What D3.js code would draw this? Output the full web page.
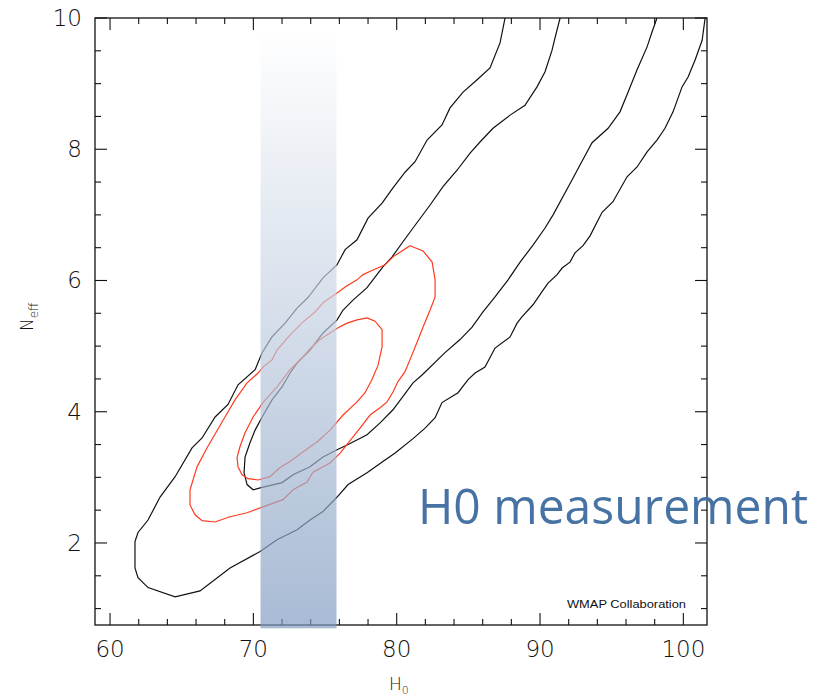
<!DOCTYPE html>
<html>
<head>
<meta charset="utf-8">
<script src="https://cdn.jsdelivr.net/npm/d3@7"></script>
<style>
  body { margin: 0; background: #fff; }
  svg { display: block; }
  .tick-label { font-family: "DejaVu Sans", sans-serif; font-weight: 200; font-size: 23px; fill: #111; }
</style>
</head>
<body>
<svg id="chart" width="829" height="698"></svg>
<script>
// axis ranges and ticks
var xDomain = [58.95, 101.65];
var yDomain = [0.75, 10];
var xMajor = [60, 70, 80, 90, 100];
var yMajor = [2, 4, 6, 8, 10];

// H0 prior band (km/s/Mpc)
var band = [70.5, 75.8];
var bandN = [9.82, 0.7];

// WMAP-only contours: [H0, Neff]
var blackOuter = [
  [87.56,10],[87.21,9.62],[86.51,9.24],[85.61,9.06],[84.63,8.87],[83.72,8.63],[83.16,8.37],[82.12,8.14],
  [81.28,7.81],[80.58,7.65],[79.74,7.41],[78.98,7.18],[78.00,6.95],[77.23,6.62],[76.40,6.47],[75.84,6.24],
  [74.86,6.04],[73.81,5.74],[73.05,5.58],[72.21,5.35],[71.30,5.14],[70.61,4.90],[70.12,4.64],[68.93,4.41],
  [68.23,4.11],[67.33,3.92],[66.42,3.60],[65.72,3.45],[64.54,3.01],[63.49,2.70],[62.65,2.35],[61.95,2.16],
  [61.74,2.02],[61.74,1.62],[61.95,1.47],[62.65,1.32],[64.54,1.18],[66.28,1.27],[68.37,1.62],[70.47,1.87],
  [71.65,2.05],[73.05,2.20],[73.95,2.35],[74.86,2.48],[75.84,2.70],[76.61,2.89],[77.93,3.07],[78.84,3.21],
  [79.89,3.37],[81.14,3.59],[81.98,3.75],[82.68,3.91],[83.16,4.14],[84.28,4.29],[84.98,4.49],[85.47,4.59],
  [86.16,4.68],[86.86,4.97],[87.91,5.14],[88.40,5.35],[88.75,5.45],[89.51,5.63],[90.14,5.83],[90.56,5.96],
  [91.19,6.09],[91.54,6.19],[92.09,6.28],[92.44,6.42],[93.00,6.53],[93.49,6.68],[94.33,7.04],[95.09,7.20],
  [96.07,7.58],[96.77,7.73],[97.47,7.96],[98.16,8.14],[98.72,8.32],[99.28,8.57],[99.91,8.95],[100.33,9.10],
  [100.82,9.36],[101.31,9.66],[101.52,10]
];
var blackInner = [
  [91.40,10],[91.05,9.70],[90.84,9.51],[90.35,9.18],[89.79,8.95],[88.95,8.67],[87.91,8.52],[86.72,8.32],
  [85.81,8.11],[85.12,7.94],[84.21,7.68],[83.23,7.43],[82.33,7.15],[81.14,6.80],[80.44,6.59],[79.68,6.36],
  [79.05,6.21],[77.93,5.89],[76.95,5.70],[76.26,5.55],[75.84,5.40],[74.86,5.20],[73.95,4.94],[73.05,4.74],
  [72.56,4.59],[72.00,4.38],[71.30,4.18],[70.61,3.92],[70.12,3.72],[69.77,3.53],[69.42,3.31],[69.35,3.07],
  [69.56,2.89],[69.98,2.81],[70.47,2.84],[72.00,2.92],[72.77,3.04],[73.95,3.16],[74.86,3.31],[75.84,3.42],
  [76.61,3.50],[77.93,3.65],[78.84,3.83],[79.74,4.03],[81.14,4.44],[81.77,4.56],[83.37,4.90],[84.42,5.10],
  [85.26,5.29],[86.02,5.52],[86.86,5.75],[87.77,6.01],[88.61,6.28],[89.51,6.54],[90.35,6.80],[90.91,7.00],
  [92.23,7.53],[92.79,7.76],[93.63,8.10],[94.75,8.32],[95.58,8.57],[96.14,8.87],[96.77,9.21],[97.47,9.56],
  [97.82,9.79],[98.16,10]
];
// WMAP + BAO + H0 contours (closed)
var redOuter = [
  [80.93,6.53],[81.84,6.45],[82.47,6.28],[82.68,6.01],[82.68,5.75],[82.33,5.55],[81.84,5.29],[81.42,5.06],
  [81.07,4.87],[80.58,4.61],[80.09,4.46],[79.74,4.30],[79.33,4.15],[78.84,4.06],[78.14,3.95],[77.44,3.75],
  [76.05,3.37],[75.35,3.22],[74.16,3.08],[73.74,2.93],[72.77,2.81],[72.07,2.66],[70.67,2.55],[69.56,2.46],
  [68.37,2.40],[67.33,2.32],[66.42,2.34],[65.93,2.43],[65.58,2.58],[65.58,2.81],[66.07,3.16],[66.77,3.45],
  [67.33,3.66],[68.02,3.92],[68.72,4.18],[69.56,4.44],[70.33,4.59],[70.67,4.68],[71.30,4.79],[71.65,4.94],
  [72.56,5.17],[73.47,5.37],[74.30,5.52],[74.86,5.66],[75.84,5.81],[76.40,5.90],[77.23,6.01],[77.65,6.09],
  [78.35,6.16],[79.19,6.24],[79.74,6.36]
];
var redInner = [
  [77.93,5.43],[78.49,5.38],[78.98,5.25],[78.98,4.99],[78.70,4.71],[78.28,4.49],[77.79,4.29],[77.23,4.15],
  [76.26,3.95],[75.35,3.72],[74.44,3.54],[73.47,3.39],[72.56,3.24],[71.86,3.15],[71.16,3.01],[70.33,2.96],
  [69.63,2.98],[69.21,3.04],[68.93,3.16],[68.86,3.30],[69.07,3.47],[69.42,3.68],[69.98,3.92],[70.67,4.14],
  [71.65,4.38],[72.56,4.64],[73.47,4.84],[73.95,4.96],[74.65,5.10],[75.35,5.20],[75.91,5.28],[76.54,5.35],
  [77.23,5.40]
];

var svg = d3.select('#chart');
var x = d3.scaleLinear().domain(xDomain).range([95, 707]);
var y = d3.scaleLinear().domain(yDomain).range([625, 18]);

var defs = svg.append('defs');
defs.append('clipPath').attr('id', 'plot')
  .append('rect').attr('x', 95).attr('y', 18).attr('width', 612).attr('height', 607);

var grad = defs.append('linearGradient')
  .attr('id', 'bandGrad').attr('x1', 0).attr('y1', 0).attr('x2', 0).attr('y2', 1);
grad.append('stop').attr('offset', '0%').attr('stop-color', '#ffffff');
grad.append('stop').attr('offset', '100%').attr('stop-color', '#7f9ac0');

var openLine = d3.line().x(function(d) { return x(d[0]); }).y(function(d) { return y(d[1]); });
var loopLine = d3.line().curve(d3.curveLinearClosed)
  .x(function(d) { return x(d[0]); }).y(function(d) { return y(d[1]); });

// contours
var g = svg.append('g').attr('clip-path', 'url(#plot)');
[blackOuter, blackInner].forEach(function(c) {
  g.append('path').attr('d', openLine(c)).attr('fill', 'none').attr('stroke', '#111').attr('stroke-width', 1.2);
});
[redOuter, redInner].forEach(function(c) {
  g.append('path').attr('d', loopLine(c)).attr('fill', 'none').attr('stroke', '#ff3b1f').attr('stroke-width', 1.2);
});

// frame + ticks
var frame = svg.append('g');
frame.append('rect').attr('x', 95).attr('y', 18).attr('width', 612).attr('height', 607)
  .attr('fill', 'none').attr('stroke', '#111').attr('stroke-width', 1.3);

var xMinor = d3.range(60, 102, 2);
var yMinor = d3.range(1, 10.01, 0.5);
xMinor.forEach(function(v) {
  var len = xMajor.indexOf(v) >= 0 ? 12 : 6;
  frame.append('line').attr('x1', x(v)).attr('x2', x(v)).attr('y1', 625).attr('y2', 625 - len)
    .attr('stroke', '#111').attr('stroke-width', 1.1);
  frame.append('line').attr('x1', x(v)).attr('x2', x(v)).attr('y1', 18).attr('y2', 18 + len)
    .attr('stroke', '#111').attr('stroke-width', 1.1);
});
yMinor.forEach(function(v) {
  var len = yMajor.indexOf(v) >= 0 ? 12 : 6;
  frame.append('line').attr('y1', y(v)).attr('y2', y(v)).attr('x1', 95).attr('x2', 95 + len)
    .attr('stroke', '#111').attr('stroke-width', 1.1);
  frame.append('line').attr('y1', y(v)).attr('y2', y(v)).attr('x1', 707).attr('x2', 707 - len)
    .attr('stroke', '#111').attr('stroke-width', 1.1);
});

svg.selectAll('.xl').data(xMajor).enter().append('text')
  .attr('class', 'tick-label').attr('x', function(d) { return x(d); }).attr('y', 657)
  .attr('text-anchor', 'middle').text(function(d) { return d; });
svg.selectAll('.yl').data(yMajor).enter().append('text')
  .attr('class', 'tick-label').attr('x', 82).attr('y', function(d) { return y(d) + 8; })
  .attr('text-anchor', 'end').text(function(d) { return d; });

// axis titles
var xt = svg.append('text').attr('x', 389).attr('y', 690)
  .style('font-family', 'DejaVu Sans, sans-serif').style('font-weight', 200).style('font-size', '17px').attr('fill', '#111');
xt.append('tspan').text('H');
xt.append('tspan').attr('dy', 4).style('font-size', '11px').text('0');

var yt = svg.append('text').attr('transform', 'translate(33,331) rotate(-90)')
  .style('font-family', 'DejaVu Sans, sans-serif').style('font-weight', 200).style('font-size', '17px').attr('fill', '#111');
yt.append('tspan').text('N');
yt.append('tspan').attr('dy', 5).style('font-size', '12px').text('eff');

// prior band drawn over the contours
svg.append('rect')
  .attr('x', x(band[0])).attr('width', x(band[1]) - x(band[0]))
  .attr('y', y(bandN[0])).attr('height', y(bandN[1]) - y(bandN[0]))
  .attr('fill', 'url(#bandGrad)').attr('fill-opacity', 0.68);

svg.append('text').attr('x', 567).attr('y', 608)
  .style('font-family', 'Liberation Sans, Arial, sans-serif').style('font-size', '11px').attr('fill', '#111')
  .attr('textLength', 119).attr('lengthAdjust', 'spacingAndGlyphs')
  .text('WMAP Collaboration');

svg.append('text').attr('x', 418).attr('y', 524)
  .style('font-family', 'Open Sans, sans-serif').style('font-size', '50px').attr('fill', '#4673a3')
  .attr('textLength', 390).attr('lengthAdjust', 'spacingAndGlyphs')
  .text('H0 measurement');
</script>
</body>
</html>
